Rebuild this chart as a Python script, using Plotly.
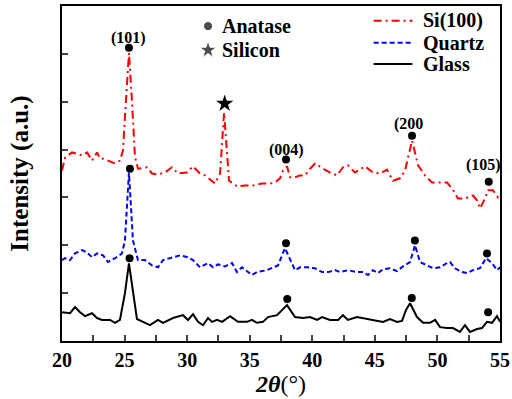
import plotly.graph_objects as go

# ---------------- data ----------------
glass_x = [20.0, 20.64, 21.04, 21.44, 21.84, 22.40, 22.80, 23.20, 23.84, 24.24, 24.63, 25.03, 25.35, 25.67, 25.99,
           26.47, 27.03, 27.67, 28.07, 28.87, 29.67, 30.07, 30.47, 30.87, 31.27, 31.67, 31.99, 32.39, 32.79, 33.43,
           34.06, 34.78, 35.18, 35.58, 36.06, 36.46, 37.18, 37.98, 38.62, 39.26, 39.82, 40.38, 40.78, 41.42, 42.06,
           42.45, 42.85, 43.57, 44.37, 45.17, 45.65, 46.21, 46.77, 47.17, 47.49, 47.81, 48.37, 48.85, 49.41, 49.81,
           50.21, 50.77, 51.24, 51.80, 52.20, 52.60, 53.16, 53.56, 53.96, 54.36, 54.76, 55.0]
glass_y = [0.60, 0.58, 0.71, 0.60, 0.52, 0.58, 0.48, 0.44, 0.44, 0.38, 0.44, 1.00, 1.62, 1.00, 0.46,
           0.40, 0.33, 0.44, 0.38, 0.48, 0.54, 0.44, 0.56, 0.40, 0.33, 0.48, 0.40, 0.44, 0.40, 0.52,
           0.40, 0.40, 0.44, 0.38, 0.40, 0.50, 0.54, 0.75, 0.50, 0.48, 0.50, 0.44, 0.50, 0.44, 0.44,
           0.54, 0.44, 0.50, 0.46, 0.42, 0.40, 0.46, 0.40, 0.42, 0.65, 0.79, 0.50, 0.38, 0.38, 0.44,
           0.29, 0.27, 0.27, 0.19, 0.33, 0.19, 0.25, 0.27, 0.40, 0.38, 0.52, 0.40]

quartz_x = [20.0, 20.24, 20.64, 21.04, 21.60, 22.00, 22.40, 22.80, 23.28, 23.68, 24.24, 24.79, 25.03, 25.35, 25.67,
            26.07, 26.63, 27.19, 27.67, 28.07, 28.87, 29.43, 30.07, 30.47, 31.03, 31.67, 32.07, 32.47, 33.03, 33.59,
            33.98, 34.38, 35.18, 35.58, 36.38, 37.26, 37.82, 38.22, 38.62, 39.02, 39.58, 40.22, 40.78, 41.26, 41.82,
            42.21, 42.85, 43.57, 44.05, 44.45, 44.85, 45.25, 45.65, 46.21, 46.77, 47.25, 47.81, 48.21, 48.61, 49.17,
            49.65, 50.21, 50.77, 51.01, 51.40, 51.96, 52.36, 52.84, 53.40, 53.88, 54.36, 54.76, 55.0]
quartz_y = [1.69, 1.73, 1.69, 1.83, 1.90, 1.85, 1.75, 1.83, 1.79, 1.65, 1.73, 1.83, 2.10, 3.52, 2.10,
            1.69, 1.69, 1.58, 1.54, 1.69, 1.75, 1.79, 1.75, 1.69, 1.54, 1.63, 1.54, 1.60, 1.56, 1.63,
            1.44, 1.54, 1.38, 1.44, 1.48, 1.58, 1.94, 1.69, 1.48, 1.54, 1.54, 1.52, 1.44, 1.44, 1.48,
            1.44, 1.48, 1.44, 1.44, 1.38, 1.48, 1.42, 1.50, 1.52, 1.46, 1.56, 1.65, 2.00, 1.65, 1.58,
            1.52, 1.54, 1.63, 1.65, 1.52, 1.44, 1.42, 1.48, 1.52, 1.73, 1.63, 1.48, 1.54]

si_x = [20.0, 20.24, 20.80, 21.60, 22.00, 22.40, 22.80, 23.04, 23.28, 24.00, 24.24, 24.63, 24.87, 25.11, 25.35,
        25.59, 25.83, 26.07, 26.79, 27.19, 27.67, 28.23, 28.79, 29.27, 29.99, 30.47, 31.03, 31.43, 32.23, 32.63,
        32.95, 33.35, 33.59, 33.98, 34.62, 35.26, 35.98, 36.62, 37.02, 37.42, 37.66, 37.98, 38.22, 38.62, 39.02,
        39.42, 39.82, 40.22, 40.86, 41.42, 41.98, 42.45, 42.85, 43.41, 44.21, 44.85, 45.41, 45.97, 46.45, 47.01,
        47.41, 47.97, 48.45, 49.01, 49.57, 50.21, 50.77, 51.16, 51.64, 52.20, 52.84, 53.16, 53.40, 53.80, 54.04,
        54.44, 54.84, 55.0]
si_y = [3.56, 3.83, 3.94, 3.88, 3.94, 3.77, 3.94, 3.81, 3.81, 3.73, 3.71, 3.77, 3.98, 5.02, 6.02,
        5.02, 3.85, 3.60, 3.63, 3.50, 3.48, 3.52, 3.63, 3.50, 3.52, 3.65, 3.50, 3.46, 3.29, 3.50,
        4.77, 3.35, 3.31, 3.23, 3.25, 3.25, 3.29, 3.29, 3.31, 3.40, 3.56, 3.65, 3.42, 3.42, 3.46,
        3.46, 3.60, 3.71, 3.60, 3.52, 3.46, 3.63, 3.67, 3.52, 3.65, 3.52, 3.50, 3.58, 3.35, 3.40,
        3.56, 4.19, 3.67, 3.46, 3.31, 3.31, 3.31, 3.19, 2.98, 2.98, 3.04, 2.94, 2.77, 2.98, 3.15,
        3.15, 3.00, 3.04]

# anatase peak markers
anatase_x = [25.4, 38.0, 47.95, 54.05, 25.43, 37.9, 48.2, 53.96, 25.35, 37.9, 47.97, 54.1]
anatase_y = [1.73, 0.88, 0.90, 0.60, 3.60, 2.04, 2.10, 1.83, 6.13, 3.79, 4.29, 3.33]
silicon_x = [33.0]
silicon_y = [4.96]

hkl_labels = ["(101)", "(004)", "(200", "(105)"]
hkl_x = [25.35, 37.9, 47.7, 53.65]
hkl_y = [6.33, 3.99, 4.53, 3.67]

series_names = ["Si(100)", "Quartz", "Glass"]
series_colors = ["#ff0000", "#0000ff", "black"]
series_dash = ["8px,4px,2px,4px", "5px,3px", "solid"]

key_names = ["Anatase", "Silicon"]
key_symbols = ["circle", "star"]

x_ticks = [20, 25, 30, 35, 40, 45, 50, 55]
x_tick_text = ["20", "25", "30", "35", "40", "45", "50", "55"]

FONT = "Liberation Serif, Times New Roman, serif"

fig = go.Figure()
for xs, ys, nm, col, dsh in zip([si_x, quartz_x, glass_x], [si_y, quartz_y, glass_y],
                                series_names, series_colors, series_dash):
    fig.add_trace(go.Scatter(x=xs, y=ys, mode="lines", name=nm, showlegend=False,
                             line=dict(color=col, width=2, dash=dsh)))
fig.add_trace(go.Scatter(x=anatase_x, y=anatase_y, mode="markers", showlegend=False,
                         marker=dict(symbol="circle", size=8, color="black")))
fig.add_trace(go.Scatter(x=silicon_x, y=silicon_y, mode="markers", showlegend=False,
                         marker=dict(symbol="star", size=13, color="black")))

# key for symbols (upper middle)
key_y = [6.58, 6.08]
fig.add_trace(go.Scatter(x=[31.67, 31.67], y=key_y, mode="markers", showlegend=False,
                         marker=dict(symbol=key_symbols, size=[9, 13], color="black")))
for t, yy in zip(key_names, key_y):
    fig.add_annotation(x=32.63, y=yy, text="<b>" + t + "</b>", showarrow=False, xanchor="left",
                       font=dict(family=FONT, size=20, color="black"))

# legend for series (upper right), drawn manually
leg_y = [6.69, 6.23, 5.79]
for nm, col, dsh, yy in zip(series_names, series_colors, series_dash, leg_y):
    fig.add_shape(type="line", x0=44.9, x1=48.0, y0=yy, y1=yy,
                  line=dict(color=col, width=2, dash=dsh))
    fig.add_annotation(x=48.69, y=yy, text="<b>" + nm + "</b>", showarrow=False, xanchor="left",
                       font=dict(family=FONT, size=20, color="black"))

for t, xx, yy in zip(hkl_labels, hkl_x, hkl_y):
    fig.add_annotation(x=xx, y=yy, text="<b>" + t + "</b>", showarrow=False,
                       font=dict(family=FONT, size=16, color="black"))

fig.update_layout(
    width=512, height=399,
    margin=dict(l=62, r=12, t=6, b=58, autoexpand=False),
    paper_bgcolor="white", plot_bgcolor="white",
    font=dict(family=FONT, color="black"),
    showlegend=False,
    xaxis=dict(range=[20, 55], tickvals=x_ticks, ticktext=["<b>" + s + "</b>" for s in x_tick_text],
               ticks="inside", ticklen=6, tickwidth=2, automargin=False,
               minor=dict(ticks="inside", ticklen=6, tickwidth=2, dtick=2.5, showgrid=False),
               showline=True, linewidth=2, linecolor="black", mirror=True, showgrid=False, zeroline=False,
               tickfont=dict(family=FONT, size=20),
               title=dict(text="<b><i>2θ</i></b>(°)", font=dict(family=FONT, size=24), standoff=2)),
    yaxis=dict(range=[0, 7], dtick=1, ticks="inside", ticklen=6, tickwidth=2, showticklabels=False,
               showline=True, linewidth=2, linecolor="black", mirror=True, showgrid=False, zeroline=False,
               automargin=False,
               title=dict(text="<b>Intensity (a.u.)</b>", font=dict(family=FONT, size=25), standoff=24)),
)

fig.write_html("out.html", config={"displayModeBar": False},
               post_script="document.body.style.margin='0';")
